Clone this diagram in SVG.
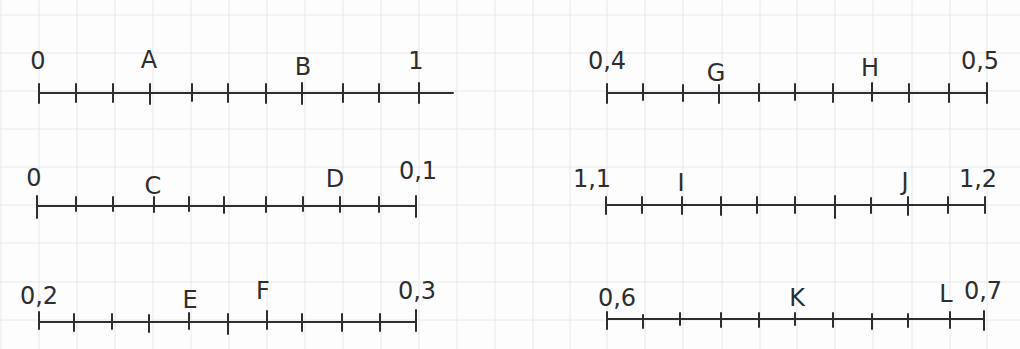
<svg xmlns="http://www.w3.org/2000/svg" width="1020" height="349" viewBox="0 0 1020 349">
<style>
.bg{fill:#fdfdfd}
.grid{stroke:#e8e8e8;stroke-width:1;fill:none}
.axis{stroke:#2e2e2e;stroke-width:2;fill:none;stroke-linecap:round}
.tick{stroke:#2e2e2e;stroke-width:2;fill:none;stroke-linecap:round}
.lbl{font-family:"DejaVu Sans","Liberation Sans",sans-serif;font-size:24px;fill:#2e2e2e;text-anchor:middle;font-weight:normal}
</style>
<rect class="bg" x="0" y="0" width="1020" height="349"/>
<g id="grid" class="grid">
<path d="M0 15H1020M0 53H1020M0 91H1020M0 129H1020M0 167H1020M0 205H1020M0 243H1020M0 282H1020M0 320H1020"/>
<path d="M1 0V349M39 0V349M77 0V349M115 0V349M153 0V349M191 0V349M229 0V349M267 0V349M305 0V349M343 0V349M381 0V349M419 0V349M457 0V349M495 0V349M533 0V349M570 0V349M607 0V349M645 0V349M683 0V349M722 0V349M760 0V349M797 0V349M835 0V349M873 0V349M912 0V349M950 0V349M987 0V349"/>
</g>
<g id="line-0-1">
<path class="axis" d="M39 93H453"/>
<path class="tick" d="M39 84V103M76 84V102M113 84V102M150 84V104M192 84V101M228 84V102M266 84V103M302 83V104M343 84V102M379 84V102M419 83V103"/>
<text class="lbl" x="38" y="69">0</text>
<text class="lbl" x="149" y="68">A</text>
<text class="lbl" x="303" y="75">B</text>
<text class="lbl" x="416" y="69">1</text>
</g>
<g id="line-04-05">
<path class="axis" d="M607 93H987"/>
<path class="tick" d="M607 84V103M643 84V100M683 85V101M719 85V103M759 84V101M795 84V100M833 84V102M872 83V101M909 84V102M949 84V102M987 83V103"/>
<text class="lbl" x="607" y="69">0,4</text>
<text class="lbl" x="716" y="81">G</text>
<text class="lbl" x="870" y="76">H</text>
<text class="lbl" x="980" y="69">0,5</text>
</g>
<g id="line-0-01">
<path class="axis" d="M38 206H416"/>
<path class="tick" d="M37 196V218M76 197V211M113 197V211M154 197V212M189 197V211M224 197V213M266 197V212M303 197V211M340 197V212M379 197V212M416 196V217"/>
<text class="lbl" x="34" y="186">0</text>
<text class="lbl" x="153" y="194">C</text>
<text class="lbl" x="335" y="187">D</text>
<text class="lbl" x="418" y="179">0,1</text>
</g>
<g id="line-11-12">
<path class="axis" d="M606 205H985"/>
<path class="tick" d="M606 197V214M642 197V213M682 197V214M721 197V215M757 197V213M795 197V213M835 196V218M871 198V213M908 197V215M948 197V213M985 197V213"/>
<text class="lbl" x="592" y="187">1,1</text>
<text class="lbl" x="681" y="191">I</text>
<text class="lbl" x="905" y="190">J</text>
<text class="lbl" x="978" y="187">1,2</text>
</g>
<g id="line-02-03">
<path class="axis" d="M39 322H416"/>
<path class="tick" d="M39 312V329M74 314V331M112 314V329M149 315V332M189 313V329M228 314V334M267 311V329M302 314V331M342 314V331M380 314V331M416 310V331"/>
<text class="lbl" x="39" y="304">0,2</text>
<text class="lbl" x="190" y="308">E</text>
<text class="lbl" x="263" y="299">F</text>
<text class="lbl" x="417" y="299">0,3</text>
</g>
<g id="line-06-07">
<path class="axis" d="M607 319H984"/>
<path class="tick" d="M607 312V329M643 315V328M680 313V325M721 313V327M759 313V327M795 313V325M833 313V327M872 314V329M908 314V327M950 312V328M984 311V330"/>
<text class="lbl" x="617" y="306">0,6</text>
<text class="lbl" x="797" y="306">K</text>
<text class="lbl" x="946" y="302">L</text>
<text class="lbl" x="983" y="299">0,7</text>
</g>
</svg>
